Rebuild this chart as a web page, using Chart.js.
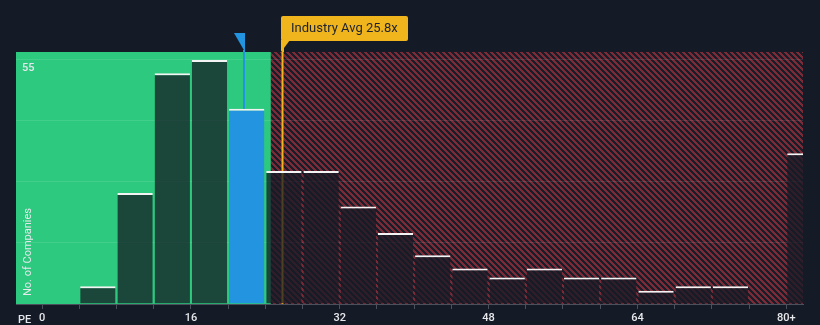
<!DOCTYPE html>
<html lang="en">

<head>
  <meta charset="UTF-8">
  <title>PE distribution</title>
  <style>
    body {
      margin: 0;
      background-color: #151b26;
    }

    .chart-box {
      width: 820px;
      height: 325px;
      position: relative;
    }
  </style>
  <script src="https://cdn.jsdelivr.net/npm/chart.js"></script>
</head>

<body>
  <div class="chart-box"><canvas id="peChart"></canvas></div>

  <script>
    // histogram bins (start of each 4-wide bin), last one is 80+
    const binStarts = [4, 8, 12, 16, 20, 24, 28, 32, 36, 40, 44, 48, 52, 56, 60, 64, 68, 72, 76, 80];
    const companyCounts = [4, 25, 52, 55, 44, 30, 30, 22, 16, 11, 8, 6, 8, 6, 6, 3, 4, 4, 0, 34];
    const binWidth = 4;
    const xTickValues = [0, 4, 8, 12, 16, 20, 24, 28, 32, 36, 40, 44, 48, 52, 56, 60, 64, 68, 72, 76, 80];
    const xTickLabels = { 0: '0', 16: '16', 32: '32', 48: '48', 64: '64', 80: '80+' };
    const yGridValues = [0, 13.75, 27.5, 41.25, 55];
    const yLabel = '55';
    const companyPE = 21.7;
    const industryAvg = 25.8;
    const goodUntil = 24.6;

    const barColors = binStarts.map(s => (companyPE >= s && companyPE < s + binWidth) ? '#2394df' : 'rgba(21, 27, 38, 0.75)');

    // diagonal red hatch for the "expensive" zone, drawn pixel by pixel
    function makeHatch() {
      const n = 6;
      const c = document.createElement('canvas');
      c.width = n;
      c.height = n;
      const g = c.getContext('2d');
      for (let i = 0; i < n; i++) {
        for (let j = 0; j < n; j++) {
          const k = ((i - j) % n + n) % n;
          g.fillStyle = k < 3 ? '#7b2a37' : '#1a1c27';
          g.fillRect(i, j, 1, 1);
        }
      }
      return c;
    }

    const zonesPlugin = {
      id: 'zones',
      beforeDraw(chart) {
        const { ctx, chartArea: a, scales: { x } } = chart;
        const split = x.getPixelForValue(goodUntil);
        ctx.save();
        ctx.fillStyle = '#2dc97e';
        ctx.fillRect(a.left, a.top, split - a.left, a.bottom - a.top);
        ctx.fillStyle = ctx.createPattern(makeHatch(), 'repeat');
        ctx.fillRect(split, a.top, a.right - split, a.bottom - a.top);
        ctx.restore();
      },
      beforeDatasetsDraw(chart) {
        // industry average line sits under the bars
        const { ctx, chartArea: a, scales: { x } } = chart;
        const px = Math.round(x.getPixelForValue(industryAvg)) + 0.5;
        ctx.save();
        ctx.strokeStyle = '#f0b41c';
        ctx.lineWidth = 2;
        ctx.beginPath();
        ctx.moveTo(px, a.top);
        ctx.lineTo(px, a.bottom);
        ctx.stroke();
        ctx.restore();
      },
      afterDraw(chart) {
        const { ctx, chartArea: a, scales: { x, y } } = chart;
        ctx.save();

        // company marker
        const bx = Math.round(x.getPixelForValue(companyPE));
        const idx = binStarts.findIndex(s => companyPE >= s && companyPE < s + binWidth);
        const barTop = y.getPixelForValue(companyCounts[idx]);
        ctx.fillStyle = '#2394df';
        ctx.fillRect(bx - 1, a.top - 2, 2, barTop - a.top + 2);
        ctx.beginPath();
        ctx.moveTo(bx - 10, a.top - 19);
        ctx.lineTo(bx + 1, a.top - 19);
        ctx.lineTo(bx + 1, a.top);
        ctx.closePath();
        ctx.fill();

        // industry average label
        const ix = Math.round(x.getPixelForValue(industryAvg));
        ctx.fillStyle = '#f0b41c';
        ctx.fillRect(ix, a.top - 12, 2, 12);
        ctx.beginPath();
        ctx.roundRect(ix - 1, 16, 127, 25, 2);
        ctx.fill();
        ctx.beginPath();
        ctx.moveTo(ix - 1, 40);
        ctx.lineTo(ix + 8, 40);
        ctx.lineTo(ix - 1, 52);
        ctx.closePath();
        ctx.fill();
        ctx.fillStyle = '#1c2230';
        ctx.font = '13px Roboto, "Open Sans", sans-serif';
        ctx.textBaseline = 'middle';
        ctx.fillText('Industry Avg ' + industryAvg + 'x', ix + 9, 29);

        // axis texts
        ctx.fillStyle = '#e6e8ec';
        ctx.font = '500 11px Roboto, sans-serif';
        ctx.fillText(yLabel, a.left + 6, y.getPixelForValue(55) + 8);
        ctx.fillText('PE', 18, 320);
        ctx.translate(28, 252);
        ctx.rotate(-Math.PI / 2);
        ctx.textAlign = 'center';
        ctx.font = '11px Roboto, sans-serif';
        ctx.fillText('No. of Companies', 0, 0);
        ctx.restore();
      }
    };

    const ctx = document.getElementById('peChart').getContext('2d');
    const chart = new Chart(ctx, {
      type: 'bar',
      data: {
        datasets: [{
          data: binStarts.map((s, i) => ({ x: s + binWidth / 2, y: companyCounts[i] || null })),
          backgroundColor: barColors,
          borderColor: '#f4f4f4',
          borderWidth: { top: 2, left: 0, right: 0, bottom: 0 },
          borderSkipped: false,
          barPercentage: 0.95,
          categoryPercentage: 1
        }]
      },
      options: {
        responsive: true,
        maintainAspectRatio: false,
        animation: false,
        layout: { padding: { left: 16, right: 17, top: 52, bottom: 0 } },
        plugins: { legend: { display: false }, tooltip: { enabled: false } },
        scales: {
          x: {
            type: 'linear',
            offset: false,
            min: -2.8,
            max: 81.8,
            afterBuildTicks: s => { s.ticks = xTickValues.map(v => ({ value: v })); },
            afterFit: s => { s.height = 21; },
            grid: { drawOnChartArea: false, color: '#4b505c', tickLength: 5, offset: false },
            border: { color: '#4b505c', width: 1 },
            ticks: {
              autoSkip: false,
              maxRotation: 0,
              padding: 3,
              color: '#e6e8ec',
              font: { family: 'Roboto', size: 11, weight: '500' },
              callback: v => xTickLabels[v] || ''
            }
          },
          y: {
            min: 0,
            max: 56.8,
            afterBuildTicks: s => { s.ticks = yGridValues.map(v => ({ value: v })); },
            afterFit: s => { s.width = 0; },
            grid: { color: 'rgba(255, 255, 255, 0.1)', drawTicks: false },
            border: { display: false },
            ticks: { display: false }
          }
        }
      },
      plugins: [zonesPlugin]
    });
  </script>
</body>

</html>
